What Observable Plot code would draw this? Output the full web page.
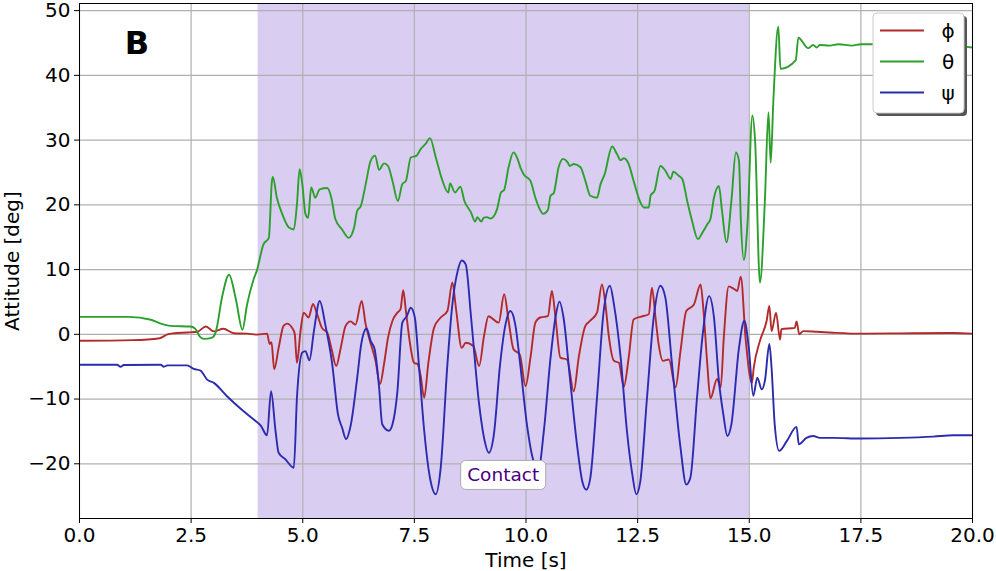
<!DOCTYPE html>
<html><head><meta charset="utf-8">
<script src="https://cdn.jsdelivr.net/npm/d3@7"></script>
<script src="https://cdn.jsdelivr.net/npm/@observablehq/plot@0.6"></script>
<style>body{margin:0;background:#fff;} #chart{position:relative;width:996px;height:571px;}</style>
</head><body><div id="chart"></div>
<script>
// ---- data ----
const seriesNames = ["ϕ", "θ", "ψ"];
const seriesColors = ["#b22a2a", "#2ca02c", "#2b2baf"];

const phi = [
[0,-1.0],[1.2,-0.9],[1.8,-0.6],[1.97,0],[2.12,0.17],[2.41,0.28],[2.64,0.4],[2.83,1.2],[3.01,0.45],[3.22,0.85],[3.46,0.17],[3.76,0.1],[3.98,-0.05],[4.2,0.1],[4.26,-1.5],[4.3,-1.2],[4.36,-5.4],[4.46,-2.1],[4.57,1.3],[4.65,1.65],[4.76,1.0],[4.82,0.1],[4.87,-4.4],[4.95,0.5],[5.02,3.35],[5.13,2.6],[5.23,4.7],[5.31,3.35],[5.43,1.0],[5.55,0.25],[5.64,-2.1],[5.75,-4.9],[5.85,-2.1],[5.96,1.3],[6.07,2.0],[6.18,1.5],[6.32,5.15],[6.41,1.5],[6.5,-0.9],[6.63,-4.1],[6.73,-7.7],[6.82,-4.6],[6.91,-0.5],[7.01,2.1],[7.12,3.35],[7.19,3.9],[7.25,6.8],[7.31,3.6],[7.4,-1.3],[7.49,-4.4],[7.57,-4.6],[7.64,-6.4],[7.72,-9.8],[7.81,-4.6],[7.94,1.0],[8.09,2.6],[8.24,3.6],[8.35,8.0],[8.43,4.1],[8.56,-2.1],[8.65,-1.3],[8.82,-1.8],[8.95,-4.9],[9.06,-0.25],[9.16,2.8],[9.27,2.3],[9.39,1.8],[9.51,6.2],[9.61,2.1],[9.72,-2.3],[9.86,-3.1],[9.99,-8.0],[10.1,-3.6],[10.21,1.8],[10.32,2.6],[10.49,2.8],[10.58,6.7],[10.66,2.6],[10.77,-3.6],[10.92,-3.9],[11.07,-8.8],[11.18,-3.6],[11.33,1.3],[11.44,2.1],[11.59,3.35],[11.7,7.7],[11.78,4.6],[11.85,0],[11.97,-4.1],[12.08,-4.4],[12.19,-8.1],[12.3,-3.6],[12.41,2.3],[12.56,2.7],[12.75,3.1],[12.82,7.2],[12.9,2.6],[12.97,-1.5],[13.07,-4.1],[13.2,-3.9],[13.35,-8.2],[13.46,-2.6],[13.59,3.6],[13.76,4.6],[13.91,7.7],[13.97,4.1],[14.06,-4.6],[14.13,-9.9],[14.28,-6.9],[14.36,-8.2],[14.43,-0.5],[14.54,7.4],[14.66,7.0],[14.73,6.7],[14.81,8.9],[14.92,-0.8],[15.06,-7.5],[15.1,-5.2],[15.24,-1.0],[15.39,2.1],[15.45,4.4],[15.5,0.5],[15.6,3.35],[15.69,-0.8],[15.72,0.8],[16.02,1.0],[16.06,2.0],[16.12,0],[16.21,0.5],[16.51,0.4],[16.88,0.25],[17.5,0.1],[18.37,0.15],[19.57,0.2],[20,0.1]
];

const theta = [
[0,2.7],[1.1,2.7],[1.6,2.25],[1.8,1.7],[2.04,1.3],[2.49,1.2],[2.6,0.8],[2.7,-0.4],[2.79,-0.7],[2.97,-0.5],[3.05,0.3],[3.2,6.0],[3.35,9.2],[3.5,5.5],[3.65,0.7],[3.75,4.5],[3.9,8.5],[3.97,9.8],[4.12,13.9],[4.24,14.9],[4.31,23.7],[4.33,24.3],[4.42,21.1],[4.54,18.6],[4.69,16.5],[4.8,16.2],[4.87,20.1],[4.93,25.5],[4.99,23.2],[5.06,18.6],[5.12,18],[5.19,22.7],[5.28,21.1],[5.38,22.4],[5.55,22.6],[5.64,21.1],[5.73,17.8],[5.88,16.2],[6.03,14.9],[6.15,16.5],[6.22,19.1],[6.3,19.8],[6.41,23.2],[6.52,26.8],[6.62,27.6],[6.71,25.4],[6.82,26.4],[6.91,26],[7.01,23.7],[7.13,20.6],[7.23,23.2],[7.31,23.7],[7.42,27.3],[7.55,27.6],[7.64,28.6],[7.75,29.4],[7.85,30.3],[7.98,27.3],[8.13,23.7],[8.26,21.9],[8.3,23.3],[8.41,21.9],[8.53,22.8],[8.62,20.6],[8.77,18.8],[8.86,17.4],[8.91,18.1],[9.0,17.4],[9.05,18],[9.12,18.1],[9.21,17.9],[9.35,19.3],[9.44,21.9],[9.51,22.3],[9.61,25.8],[9.72,28.1],[9.8,27.3],[9.89,25.5],[9.95,24.7],[10.1,23.7],[10.21,21.1],[10.31,19.3],[10.38,18.6],[10.49,19.2],[10.55,21.4],[10.62,21.8],[10.73,25.8],[10.83,27.1],[10.93,26.6],[10.98,26],[11.07,26.3],[11.22,25.8],[11.33,23.7],[11.44,21.4],[11.59,21.1],[11.67,23.2],[11.76,24.7],[11.93,29],[12.04,27.8],[12.12,26.9],[12.19,27.2],[12.3,26.3],[12.41,23.7],[12.56,20.4],[12.64,19.6],[12.75,19.6],[12.79,21.4],[12.88,22.2],[13.01,26],[13.12,25.3],[13.24,24],[13.3,25.1],[13.42,24.5],[13.5,24],[13.61,20.6],[13.72,17.5],[13.85,14.7],[13.95,15.7],[14.06,17],[14.13,17.8],[14.21,21.1],[14.32,22.9],[14.39,19.1],[14.49,14.2],[14.6,20.6],[14.7,28.1],[14.77,26.8],[14.81,18],[14.88,11.5],[14.96,17],[15.07,33.8],[15.13,30],[15.24,8],[15.35,20.6],[15.43,34.3],[15.48,26.5],[15.54,36.1],[15.65,47.5],[15.7,41],[16.04,42.3],[16.1,45.8],[16.32,44.2],[16.43,44.7],[16.51,44.3],[16.58,44.7],[16.8,44.6],[17.0,44.8],[17.3,44.6],[17.5,44.8],[17.8,44.8],[18.5,44.9],[19.0,44.8],[19.5,44.6],[19.87,44.4],[20,44.3]
];

const psi = [
[0,-4.7],[0.84,-4.7],[0.92,-5.0],[0.99,-4.75],[1.82,-4.7],[1.89,-5.0],[1.97,-4.8],[2.41,-4.8],[2.56,-5.35],[2.71,-5.6],[2.86,-7.0],[3.01,-7.5],[3.31,-9.6],[3.61,-11.5],[3.91,-13.2],[4.06,-14.1],[4.2,-15.6],[4.29,-8.8],[4.39,-14.9],[4.46,-18.3],[4.61,-19.3],[4.8,-20.6],[4.87,-9.8],[4.99,-2.8],[5.06,-2.6],[5.15,-4.0],[5.25,0.5],[5.38,5.15],[5.51,1.3],[5.66,-4.6],[5.79,-12.4],[5.88,-14.4],[5.97,-16.2],[6.07,-14.2],[6.22,-6.7],[6.31,-1.5],[6.43,0.9],[6.52,-1.0],[6.61,-2.3],[6.71,-8.2],[6.78,-13.9],[6.93,-14.9],[7.01,-13.9],[7.12,-8.8],[7.23,1.8],[7.33,2.8],[7.42,4.1],[7.51,2.6],[7.6,-4.6],[7.72,-14.9],[7.85,-22.2],[7.98,-24.7],[8.09,-20.6],[8.24,-4.6],[8.35,4.6],[8.47,9.8],[8.56,11.4],[8.65,10.8],[8.77,2.6],[8.95,-10.8],[9.06,-16.0],[9.17,-18.3],[9.28,-15.5],[9.42,-4.6],[9.54,1.5],[9.65,3.6],[9.76,1.5],[9.87,-4.6],[10.02,-13.9],[10.17,-19.6],[10.28,-20.8],[10.4,-14.9],[10.55,-3.6],[10.66,2.6],[10.75,5.05],[10.84,2.6],[10.99,-7.2],[11.15,-17.5],[11.26,-22.7],[11.35,-24.0],[11.44,-22.2],[11.59,-9.8],[11.74,3.6],[11.88,7.5],[11.97,4.6],[12.12,-3.6],[12.26,-14.9],[12.38,-21.6],[12.47,-24.7],[12.56,-22.7],[12.71,-9.8],[12.86,2.6],[13.01,7.5],[13.12,5.7],[13.27,-4.6],[13.46,-17.5],[13.59,-23.2],[13.68,-22.2],[13.83,-9.8],[13.95,-0.5],[14.1,5.9],[14.21,2.6],[14.32,-7.2],[14.42,-12.4],[14.51,-15.7],[14.6,-13.9],[14.77,-2.1],[14.89,2.1],[14.99,-2.1],[15.09,-9.5],[15.18,-6.7],[15.28,-8.5],[15.35,-7.2],[15.45,-1.5],[15.5,-5.2],[15.57,-13.9],[15.67,-18.0],[15.84,-16.5],[16.06,-14.3],[16.11,-17.0],[16.28,-16.0],[16.43,-15.7],[16.58,-16.0],[16.88,-16.0],[17.5,-16.1],[18.37,-16.0],[19.12,-15.8],[19.57,-15.6],[20,-15.6]
];

const contactSpan = [{start: 4.0, end: 15.0}];
const contactLabel = {text: "Contact", t: 9.5, v: -21.8};
const panelLabel = "B";
const xTicks = [0, 2.5, 5, 7.5, 10, 12.5, 15, 17.5, 20];
const yTicks = [-20, -10, 0, 10, 20, 30, 40, 50];
const xLabel = "Time [s]";
const yLabel = "Attitude [deg]";

// ---- build ----
const rows = [];
[phi, theta, psi].forEach((arr, i) => arr.forEach(([t, v]) => rows.push({t, v, s: seriesNames[i]})));

const W = 996, H = 571, mL = 79, mR = 24, mT = 3, mB = 53;
const font = "DejaVu Sans, sans-serif";

const plot = Plot.plot({
  width: W, height: H,
  marginLeft: mL, marginRight: mR, marginTop: mT, marginBottom: mB,
  style: {fontFamily: font, fontSize: "20px", color: "black", background: "white"},
  x: {domain: [0, 20]},
  y: {domain: [-28.45, 51.1]},
  color: {domain: seriesNames, range: seriesColors},
  marks: [
    Plot.rect(contactSpan, {x1: "start", x2: "end", fill: "#d9cdf2"}),
    Plot.gridX(xTicks, {stroke: "#b0b0b0", strokeOpacity: 1, strokeWidth: 1.2}),
    Plot.gridY(yTicks, {stroke: "#b0b0b0", strokeOpacity: 1, strokeWidth: 1.2}),
    Plot.line(rows, {x: "t", y: "v", z: "s", stroke: "s", strokeWidth: 1.9, curve: "monotone-x", clip: true}),
    Plot.frame({stroke: "black", strokeWidth: 1}),
    Plot.axisX(xTicks, {tickFormat: d => d.toFixed(1), tickSize: 5, tickPadding: 4, fontSize: 20,
      label: xLabel, labelAnchor: "center", labelArrow: false, labelOffset: 48}),
    Plot.axisY(yTicks, {tickFormat: d => d < 0 ? "\u2212" + Math.abs(d) : String(d), tickSize: 5, tickPadding: 4, fontSize: 20,
      label: yLabel, labelAnchor: "center", labelArrow: false, labelOffset: 75}),
    Plot.text([panelLabel], {frameAnchor: "top-left", dx: 57.5, dy: 40, text: d => d,
      textAnchor: "middle", lineAnchor: "middle", fontSize: 32, fontWeight: "bold", fill: "black"})
  ]
});

document.getElementById("chart").appendChild(plot);

const xs = plot.scale("x"), ys = plot.scale("y");
const svg = d3.select(plot);

// Contact label (positioned via scales)
{
  const cx = xs.apply(contactLabel.t), cy = ys.apply(contactLabel.v);
  const g = svg.append("g");
  g.append("rect").attr("x", cx - 42.5).attr("y", cy - 14.5).attr("width", 85).attr("height", 29)
    .attr("rx", 5).attr("fill", "white").attr("stroke", "#aaaaaa").attr("stroke-width", 1);
  g.append("text").attr("x", cx).attr("y", cy).attr("text-anchor", "middle").attr("dominant-baseline", "central")
    .attr("font-family", font).attr("font-size", 18.5).attr("fill", "#4b0082").text(contactLabel.text);
}

// Legend
{
  const right = W - mR - 8, top = mT + 10;
  const bw = 91, bh = 100, lx = right - bw;
  const g = svg.append("g");
  g.append("rect").attr("x", lx + 3).attr("y", top + 3).attr("width", bw).attr("height", bh).attr("rx", 4).attr("fill", "#555");
  g.append("rect").attr("x", lx).attr("y", top).attr("width", bw).attr("height", bh).attr("rx", 4)
    .attr("fill", "white").attr("stroke", "#cccccc").attr("stroke-width", 1);
  seriesNames.forEach((n, i) => {
    const y = top + 17.5 + i * 31;
    g.append("line").attr("x1", lx + 7).attr("x2", lx + 51).attr("y1", y).attr("y2", y)
      .attr("stroke", seriesColors[i]).attr("stroke-width", 1.9);
    g.append("text").attr("x", lx + 75).attr("y", y).attr("text-anchor", "middle").attr("dominant-baseline", "central")
      .attr("font-family", font).attr("font-size", 20).attr("fill", "black").text(n);
  });
}
</script></body></html>
